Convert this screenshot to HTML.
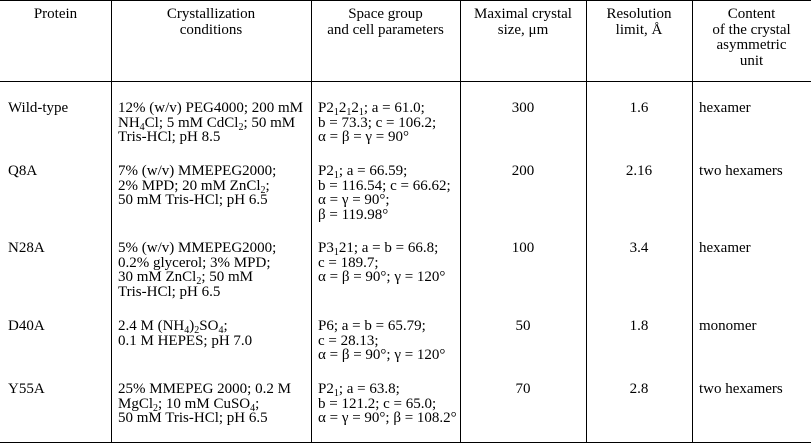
<!DOCTYPE html>
<html>
<head>
<meta charset="utf-8">
<style>
  html, body { margin:0; padding:0; background:#fff; }
  body { width:811px; height:447px; position:relative; overflow:hidden;
         font-family:"Liberation Serif", "Times New Roman", serif; font-size:15px; color:#000; }
  .hl { position:absolute; left:0; width:811px; height:1px; background:#000; }
  .vl { position:absolute; top:0; width:1px; height:443px; background:#000; }
  .t { position:absolute; white-space:nowrap; line-height:14.5px; }
  .h { position:absolute; white-space:nowrap; line-height:15.5px; text-align:center; }
  .c { text-align:center; }
  sub { font-size:10px; vertical-align:baseline; position:relative; top:3px; line-height:0; }
</style>
</head>
<body>
  <!-- rules -->
  <div class="hl" style="top:0;"></div>
  <div class="hl" style="top:81px;"></div>
  <div class="hl" style="top:442px;"></div>
  <div class="vl" style="left:111px;"></div>
  <div class="vl" style="left:311px;"></div>
  <div class="vl" style="left:460px;"></div>
  <div class="vl" style="left:586px;"></div>
  <div class="vl" style="left:692px;"></div>

  <!-- header -->
  <div class="h" style="left:0; width:111px; top:7px;">Protein</div>
  <div class="h" style="left:111px; width:200px; top:7px;">Crystallization<br>conditions</div>
  <div class="h" style="left:311px; width:149px; top:7px;">Space group<br>and cell parameters</div>
  <div class="h" style="left:460px; width:126px; top:7px;">Maximal crystal<br>size, μm</div>
  <div class="h" style="left:586px; width:106px; top:7px;">Resolution<br>limit, Å</div>
  <div class="h" style="left:692px; width:119px; top:7px;">Content<br>of the crystal<br>asymmetric<br>unit</div>

  <!-- row 1 -->
  <div class="t" style="left:8px; top:101px;">Wild-type</div>
  <div class="t" style="left:118px; top:101px;">12% (w/v) PEG4000; 200 mM<br>NH<sub>4</sub>Cl; 5 mM CdCl<sub>2</sub>; 50 mM<br>Tris-HCl; pH 8.5</div>
  <div class="t" style="left:318px; top:101px;">P2<sub>1</sub>2<sub>1</sub>2<sub>1</sub>; a = 61.0;<br>b = 73.3; c = 106.2;<br>α = β = γ = 90°</div>
  <div class="t c" style="left:460px; width:126px; top:101px;">300</div>
  <div class="t c" style="left:586px; width:106px; top:101px;">1.6</div>
  <div class="t" style="left:699px; top:101px;">hexamer</div>

  <!-- row 2 -->
  <div class="t" style="left:8px; top:164px;">Q8A</div>
  <div class="t" style="left:118px; top:164px;">7% (w/v) MMEPEG2000;<br>2% MPD; 20 mM ZnCl<sub>2</sub>;<br>50 mM Tris-HCl; pH 6.5</div>
  <div class="t" style="left:318px; top:164px;">P2<sub>1</sub>; a = 66.59;<br>b = 116.54; c = 66.62;<br>α = γ = 90°;<br>β = 119.98°</div>
  <div class="t c" style="left:460px; width:126px; top:164px;">200</div>
  <div class="t c" style="left:586px; width:106px; top:164px;">2.16</div>
  <div class="t" style="left:699px; top:164px;">two hexamers</div>

  <!-- row 3 -->
  <div class="t" style="left:8px; top:241px;">N28A</div>
  <div class="t" style="left:118px; top:241px;">5% (w/v) MMEPEG2000;<br>0.2% glycerol; 3% MPD;<br>30 mM ZnCl<sub>2</sub>; 50 mM<br>Tris-HCl; pH 6.5</div>
  <div class="t" style="left:318px; top:241px;">P3<sub>1</sub>21; a = b = 66.8;<br>c = 189.7;<br>α = β = 90°; γ = 120°</div>
  <div class="t c" style="left:460px; width:126px; top:241px;">100</div>
  <div class="t c" style="left:586px; width:106px; top:241px;">3.4</div>
  <div class="t" style="left:699px; top:241px;">hexamer</div>

  <!-- row 4 -->
  <div class="t" style="left:8px; top:319px;">D40A</div>
  <div class="t" style="left:118px; top:319px;">2.4 M (NH<sub>4</sub>)<sub>2</sub>SO<sub>4</sub>;<br>0.1 M HEPES; pH 7.0</div>
  <div class="t" style="left:318px; top:319px;">P6; a = b = 65.79;<br>c = 28.13;<br>α = β = 90°; γ = 120°</div>
  <div class="t c" style="left:460px; width:126px; top:319px;">50</div>
  <div class="t c" style="left:586px; width:106px; top:319px;">1.8</div>
  <div class="t" style="left:699px; top:319px;">monomer</div>

  <!-- row 5 -->
  <div class="t" style="left:8px; top:382px;">Y55A</div>
  <div class="t" style="left:118px; top:382px;">25% MMEPEG 2000; 0.2 M<br>MgCl<sub>2</sub>; 10 mM CuSO<sub>4</sub>;<br>50 mM Tris-HCl; pH 6.5</div>
  <div class="t" style="left:318px; top:382px;">P2<sub>1</sub>; a = 63.8;<br>b = 121.2; c = 65.0;<br>α = γ = 90°; β = 108.2°</div>
  <div class="t c" style="left:460px; width:126px; top:382px;">70</div>
  <div class="t c" style="left:586px; width:106px; top:382px;">2.8</div>
  <div class="t" style="left:699px; top:382px;">two hexamers</div>
</body>
</html>
